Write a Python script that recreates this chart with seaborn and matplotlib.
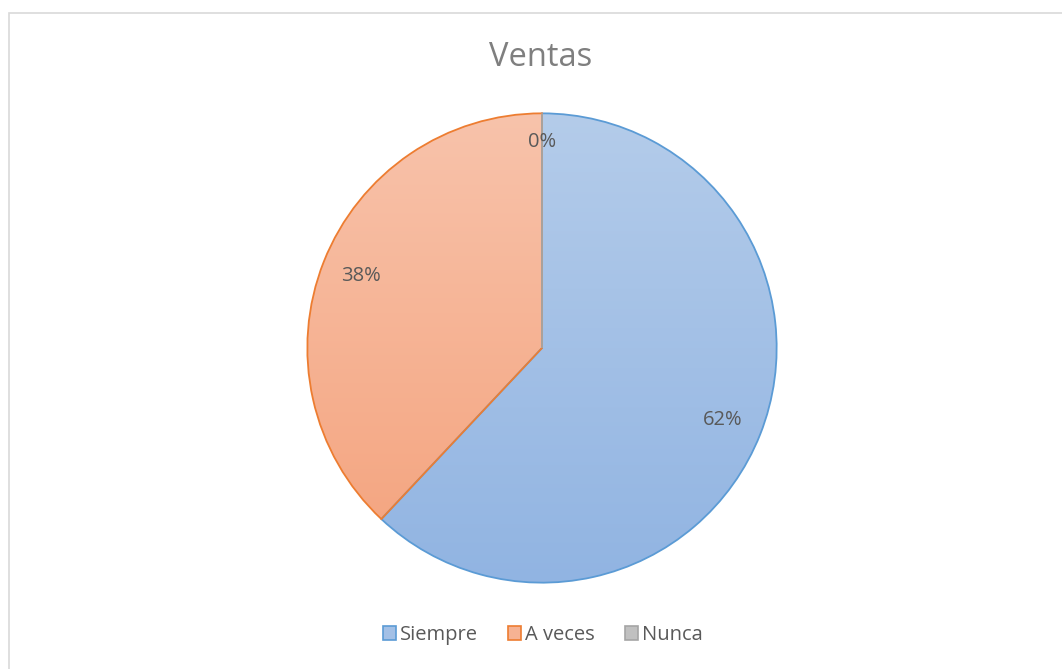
import numpy as np
import matplotlib
matplotlib.use("Agg")
import matplotlib.pyplot as plt
import seaborn as sns
from matplotlib.colors import LinearSegmentedColormap
from matplotlib.patches import Rectangle

# --- data ---
categories = ['Siempre', 'A veces', 'Nunca']
values = [62, 38, 0]
pct_labels = ['62%', '38%', '0%']

# gradient fills (top colour, bottom colour) and edge colours, Excel style
top_colors = ['#B4CCEA', '#F8C3AB', '#D0D0D0']
bottom_colors = ['#91B4E2', '#F4A27C', '#B0B0B0']
edge_colors = ['#5B9BD5', '#ED7D31', '#A5A5A5']

sns.set_theme(style='white')
plt.rcParams['font.family'] = ['Open Sans', 'DejaVu Sans']

fig = plt.figure(figsize=(10.62, 6.69), dpi=100)
W, H = 1062, 669

# light gray chart-area border (only left and top edges are visible)
fig.patches.append(Rectangle((9 / W, -0.2), 1.2, 1.2 - 13 / H, transform=fig.transFigure,
                             fill=False, edgecolor='#D9D9D9', linewidth=1.2))

cx, cy, r = 542, 669 - 348, 237
ax = fig.add_axes([(cx - r) / W, (cy - r) / H, 2 * r / W, 2 * r / H])

wedges, texts, autotexts = ax.pie(
    values, startangle=90, counterclock=False, radius=1,
    labels=None, autopct=lambda p: '', pctdistance=0.83,
    wedgeprops=dict(linewidth=1.3),
)

grad = np.linspace(0, 1, 256).reshape(-1, 1)
for w, tc, bc, ec in zip(wedges, top_colors, bottom_colors, edge_colors):
    w.set_facecolor('none')
    w.set_edgecolor(ec)
    w.set_zorder(3)
    cmap = LinearSegmentedColormap.from_list('g', [tc, bc])
    im = ax.imshow(grad, cmap=cmap, extent=[-1, 1, -1, 1], origin='upper',
                   aspect='auto', zorder=1)
    im.set_clip_path(w)

for t, lab in zip(autotexts, pct_labels):
    t.set_text(lab)
    t.set_color('#595959')
    t.set_fontsize(14.5)
    t.set_zorder(5)
# Excel "best fit" puts the 0% label a bit higher
x0, y0 = autotexts[2].get_position()
autotexts[2].set_position((x0, 0.88))

ax.set_xlim(-1.01, 1.01)
ax.set_ylim(-1.01, 1.01)
ax.set_aspect('equal')
ax.axis('off')

fig.text(541 / W, 1 - 57 / H, 'Ventas', ha='center', va='center',
         fontsize=23.5, color='#7F7F7F')

handles = [Rectangle((0, 0), 1, 1, facecolor=bc, edgecolor=ec, linewidth=1.2)
           for bc, ec in zip(['#A3C0E6', '#F6B293', '#C0C0C0'], edge_colors)]
leg = fig.legend(handles, categories, loc='center', bbox_to_anchor=(543 / W, 1 - 635 / H),
                 ncol=3, frameon=False, fontsize=14.5, handlelength=0.65,
                 handleheight=0.65, handletextpad=0.2, columnspacing=1.5)
for t in leg.get_texts():
    t.set_color('#595959')

fig.savefig('out.png', dpi=100)
